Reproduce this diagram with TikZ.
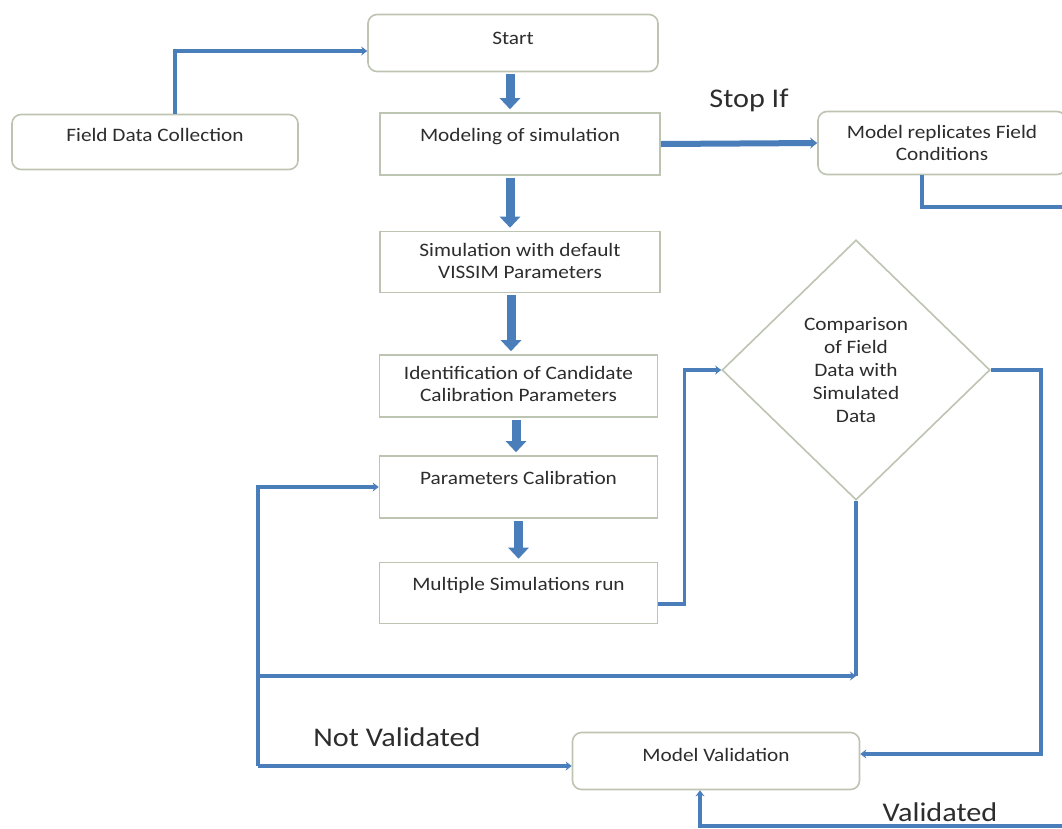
\documentclass[tikz,border=0pt]{standalone}
\usepackage{fontspec}
\setmainfont{Carlito}[FakeStretch=1.12]
\usetikzlibrary{arrows.meta}
\usetikzlibrary{shapes.geometric}
\usetikzlibrary{positioning}
\definecolor{flowblue}{RGB}{74,126,187}
\definecolor{boxline}{RGB}{190,196,178}
\definecolor{inktext}{RGB}{45,45,45}
\tikzset{
  procbox/.style={draw=boxline, line width=1.6pt, fill=white, text=inktext,
    minimum width=278pt, minimum height=62pt, align=center,
    font=\fontsize{19}{22.5}\selectfont, text depth=19pt},
  roundbox/.style={procbox, rounded corners=9pt},
  decision/.style={draw=boxline, line width=1.6pt, diamond, aspect=1,
    minimum width=268pt, minimum height=260pt, inner sep=0pt, align=center,
    text=inktext, font=\fontsize{19}{23}\selectfont},
  blockarrow/.style={draw=flowblue, line width=9pt,
    -{Triangle[width=20pt,length=11pt]}, shorten <=2pt, shorten >=3pt},
  conn/.style={draw=flowblue, line width=3.6pt},
  connarrow/.style={conn, -{Stealth[length=6pt,width=9pt]}},
  steplabel/.style={text=inktext, font=\fontsize{27}{30}\selectfont}
}
\begin{document}
\begin{tikzpicture}[x=1pt,y=-1pt]
  \clip (0,0) rectangle (1062,828);
  \fill[white] (0,0) rectangle (1062,828);

  % boxes of the main column
  \node[roundbox, minimum width=290pt, minimum height=57pt, text depth=10pt] (start) at (513,43) {Start};
  \node[roundbox, minimum width=286pt, minimum height=55pt, text depth=14pt] (field) at (155,142) {Field Data Collection};
  \node[procbox, minimum width=280pt] (model) at (520,144) {Modeling of simulation};
  \node[roundbox, minimum width=248pt, minimum height=63pt, text depth=0pt] (repl) at (942,143) {Model replicates Field\\Conditions};
  \node[procbox, minimum width=280pt, minimum height=61pt, text depth=2pt] (sim) at (520,262) {Simulation with default\\VISSIM Parameters};
  \node[procbox, text depth=4pt] (ident) at (518.5,386) {Identification of Candidate\\Calibration Parameters};
  \node[procbox] (param) at (518.5,487) {Parameters Calibration};
  \node[procbox, minimum height=61pt] (multi) at (518.5,593) {Multiple Simulations run};
  \node[decision] (comp) at (856,370) {Comparison\\of Field\\Data with\\Simulated\\Data};
  \node[roundbox, minimum width=287pt, minimum height=57pt, text depth=12pt] (val) at (716,761) {Model Validation};

  % loose ends and corners
  \coordinate (replout) at (1075,207);
  \coordinate (nvlow) at (258,676);
  \coordinate (nv) at (258,766);
  \coordinate (vout) at (1075,826);

  % thick arrows down the column
  \draw[blockarrow] ([xshift=-3pt]start.south) -- ([xshift=-10pt]model.north);
  \draw[blockarrow] ([xshift=-10pt]model.south) -- ([xshift=-10pt]sim.north);
  \draw[blockarrow] ([xshift=-9pt]sim.south) -- ([xshift=-7.5pt]ident.north);
  \draw[blockarrow] ([xshift=-2.5pt]ident.south) -- ([xshift=-2.5pt]param.north);
  \draw[blockarrow] (param.south) -- (multi.north);

  % connectors
  \draw[connarrow] ([xshift=20pt]field.north) |- ([yshift=-8pt]start.west);
  \draw[conn, line width=6pt, -{Stealth[length=7pt,width=11pt]}] (model.east) -- (repl.west);
  \draw[conn] ([xshift=-20pt]repl.south) |- (replout);
  \draw[connarrow] ([yshift=-11pt]multi.east) -- ++(26,0) |- (comp.west);
  \draw[connarrow] (comp.east) -- ++(50,0) |- ([yshift=7pt]val.east);
  \draw[conn] (comp.south) -- (comp.south |- nvlow);
  \draw[connarrow] (nvlow) -- (comp.south |- nvlow);
  \draw[connarrow] (nv) |- (param.west);
  \draw[connarrow] (nv) -- ([yshift=-5pt]val.west);
  \draw[connarrow] (vout) -| ([xshift=-16pt]val.south);

  % labels
  \node[steplabel] (stopif) at (749,100) {Stop If};
  \node[steplabel] (notval) at (397,737) {Not Validated};
  \node[steplabel] (valid) at (940,812) {Validated};
\end{tikzpicture}
\end{document}
